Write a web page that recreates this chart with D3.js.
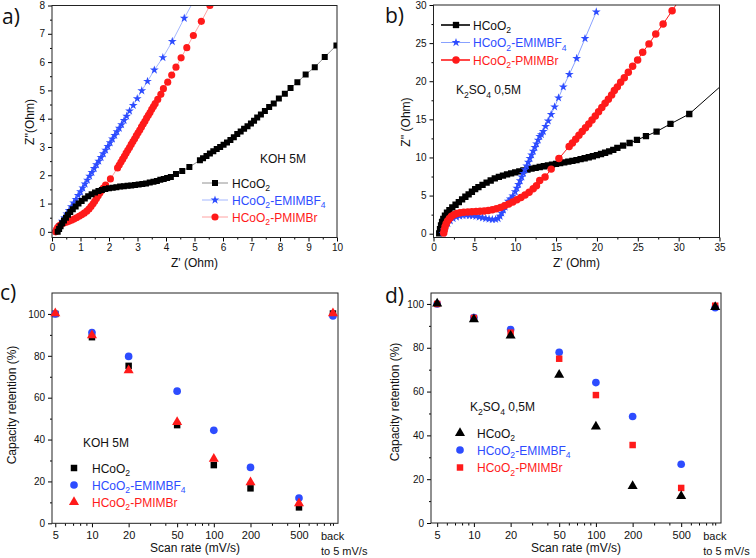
<!DOCTYPE html>
<html><head><meta charset="utf-8">
<script src="https://cdn.jsdelivr.net/npm/d3@7"></script>
<style>body{margin:0;background:#fff} text{font-family:"Liberation Sans",Arial,sans-serif}</style>
</head><body><svg id="chart" width="756" height="558"></svg>
<script>
// ---------- Panel a: KOH 5M Nyquist ----------
const aBlack = [[0.2,0.0],[0.25,0.1],[0.3,0.2],[0.36,0.3],[0.42,0.4],[0.49,0.5],[0.56,0.6],[0.64,0.7],[0.73,0.8],[0.83,0.9],[0.93,1.0],[1.04,1.09],[1.15,1.18],[1.27,1.26],[1.39,1.33],[1.51,1.39],[1.63,1.44],[1.75,1.48],[1.87,1.51],[2.0,1.54],[2.13,1.56],[2.26,1.58],[2.39,1.6],[2.52,1.61],[2.65,1.63],[2.78,1.64],[2.91,1.66],[3.04,1.67],[3.17,1.69],[3.3,1.71],[3.43,1.74],[3.56,1.77],[3.68,1.8],[3.8,1.84],[3.92,1.87],[4.04,1.9],[4.17,1.94],[4.35,2.04],[4.57,2.15],[4.82,2.29],[5.19,2.53],[5.3,2.6],[5.42,2.68],[5.54,2.77],[5.66,2.85],[5.78,2.93],[5.9,3.0],[6.02,3.08],[6.14,3.16],[6.26,3.25],[6.38,3.34],[6.5,3.46],[6.62,3.55],[6.74,3.64],[6.86,3.73],[6.98,3.83],[7.09,3.93],[7.2,4.04],[7.33,4.15],[7.47,4.27],[7.62,4.41],[7.78,4.54],[7.96,4.71],[8.17,4.88],[8.37,5.08],[8.61,5.29],[8.9,5.56],[9.22,5.82],[9.57,6.18],[9.98,6.59],[10.4,6.95]];
const aBlue = [[0.12,0.02],[0.2,0.12],[0.28,0.25],[0.36,0.38],[0.44,0.5],[0.52,0.63],[0.6,0.76],[0.68,0.89],[0.76,1.02],[0.84,1.15],[0.92,1.29],[1.0,1.42],[1.08,1.55],[1.16,1.69],[1.24,1.83],[1.32,1.97],[1.4,2.1],[1.48,2.24],[1.56,2.37],[1.64,2.5],[1.72,2.63],[1.8,2.76],[1.88,2.89],[1.96,3.02],[2.04,3.15],[2.12,3.28],[2.2,3.41],[2.28,3.54],[2.36,3.66],[2.44,3.79],[2.53,3.94],[2.62,4.09],[2.72,4.27],[2.85,4.47],[2.99,4.71],[3.15,4.99],[3.35,5.32],[3.59,5.72],[3.89,6.16],[4.22,6.73],[4.64,7.55],[5.1,8.4]];
const aRed = [[0.13,0.0],[0.16,0.08],[0.2,0.16],[0.26,0.22],[0.33,0.27],[0.41,0.31],[0.5,0.34],[0.59,0.37],[0.68,0.41],[0.77,0.45],[0.86,0.5],[0.95,0.55],[1.04,0.6],[1.13,0.66],[1.22,0.73],[1.3,0.81],[1.37,0.9],[1.44,0.99],[1.5,1.08],[1.56,1.18],[1.62,1.28],[1.68,1.37],[1.74,1.46],[1.8,1.55],[1.88,1.65],[2.05,1.87],[2.3,2.26],[2.36,2.36],[2.42,2.47],[2.48,2.57],[2.54,2.67],[2.6,2.78],[2.66,2.88],[2.72,2.98],[2.78,3.09],[2.84,3.19],[2.9,3.29],[2.96,3.4],[3.02,3.5],[3.08,3.6],[3.14,3.71],[3.2,3.81],[3.26,3.91],[3.32,4.02],[3.38,4.12],[3.44,4.22],[3.5,4.33],[3.56,4.43],[3.62,4.53],[3.71,4.68],[3.82,4.86],[3.91,5.06],[4.06,5.29],[4.2,5.54],[4.35,5.82],[4.53,6.15],[4.73,6.51],[4.96,6.94],[5.24,7.44],[5.54,8.0],[5.85,8.55]];

// ---------- Panel b: K2SO4 0,5M Nyquist ----------
const bBlack = [[0.7,0.05],[0.8,0.6],[0.92,1.1],[1.05,1.55],[1.2,1.95],[1.4,2.35],[1.65,2.75],[1.95,3.1],[2.3,3.45],[2.7,3.8],[3.1,4.15],[3.5,4.5],[3.9,4.85],[4.3,5.15],[4.7,5.5],[5.1,5.85],[5.5,6.1],[6.0,6.4],[6.5,6.7],[7.0,6.98],[7.5,7.25],[8.0,7.45],[8.5,7.62],[9.0,7.78],[9.5,7.92],[10.0,8.05],[10.5,8.18],[11.0,8.3],[11.5,8.42],[12.0,8.53],[12.5,8.64],[13.0,8.75],[13.5,8.85],[14.0,8.95],[14.5,9.05],[15.0,9.15],[15.5,9.25],[16.0,9.35],[16.5,9.45],[17.0,9.55],[17.5,9.66],[18.0,9.78],[18.5,9.9],[19.0,10.03],[19.5,10.16],[20.0,10.3],[20.5,10.45],[21.0,10.62],[21.5,10.8],[22.0,11.0],[22.5,11.25],[23.2,11.55],[24.0,11.9],[24.9,12.3],[26.0,12.8],[27.3,13.4],[29.0,14.4],[31.3,15.7],[37.2,21.3]];
const bBlue = [[1.15,0.05],[1.3,0.5],[1.5,0.95],[1.75,1.35],[2.05,1.7],[2.4,1.98],[2.8,2.2],[3.2,2.33],[3.6,2.4],[4.0,2.42],[4.4,2.4],[4.8,2.35],[5.2,2.28],[5.6,2.2],[6.0,2.1],[6.4,2.0],[6.8,1.92],[7.2,1.86],[7.6,1.88],[7.9,2.0],[8.15,2.3],[8.35,2.7],[8.55,3.1],[8.75,3.5],[8.95,3.9],[9.15,4.25],[9.4,4.55],[9.7,4.95],[10.0,5.5],[10.2,5.98],[10.4,6.47],[10.6,6.95],[10.8,7.44],[11.0,7.92],[11.2,8.4],[11.4,8.89],[11.6,9.37],[11.8,9.86],[12.0,10.34],[12.2,10.82],[12.4,11.31],[12.6,11.79],[12.8,12.28],[13.0,12.76],[13.2,13.0],[13.43,13.4],[13.72,14.08],[14.04,14.8],[14.4,15.65],[14.82,16.64],[15.3,17.82],[15.88,19.26],[16.62,20.9],[17.52,23.0],[18.54,25.6],[19.92,29.1]];
const bRed = [[1.25,0.1],[1.32,0.5],[1.42,0.9],[1.55,1.3],[1.72,1.68],[1.95,2.0],[2.2,2.28],[2.5,2.5],[2.85,2.65],[3.25,2.75],[3.7,2.82],[4.2,2.86],[4.7,2.89],[5.2,2.92],[5.7,2.95],[6.2,2.99],[6.7,3.05],[7.2,3.14],[7.7,3.28],[8.2,3.45],[8.7,3.66],[9.2,3.9],[9.7,4.17],[10.2,4.45],[10.7,4.75],[11.2,5.08],[11.7,5.45],[12.2,5.88],[12.6,6.3],[13.0,6.98],[13.65,7.45],[14.4,8.47],[15.35,9.85],[16.6,11.45],[17.0,11.9],[17.4,12.4],[17.8,12.9],[18.2,13.4],[18.6,13.9],[19.0,14.4],[19.4,14.9],[19.8,15.45],[20.2,16.0],[20.6,16.55],[21.0,17.1],[21.4,17.65],[21.8,18.2],[22.13,18.77],[22.5,19.26],[22.9,19.86],[23.35,20.47],[23.84,21.17],[24.37,21.96],[24.98,22.8],[25.6,23.8],[26.37,24.9],[27.2,26.2],[28.1,27.5],[29.2,29.25],[30.3,31.0]];

// ---------- Panels c, d: capacity retention ----------
const rateLabels = ["5","10","20","50","100","200","500"];
const rates = [5,10,20,50,100,200,500,950];   // last = "back to 5 mV/s"
const cBlack = [100,88.9,75.2,46.9,27.8,16.7,7.6,100.2];
const cBlue  = [100,91.1,79.7,63.1,44.4,26.7,12.1,99.0];
const cRed   = [100.3,89.8,73.1,48.3,30.8,19.6,9.5,100.3];
const dBlack = [100.2,93.0,85.5,67.6,44.0,16.9,12.3,98.6];
const dBlue  = [100,93.8,88.3,77.9,64.1,48.6,26.8,98.3];
const dRed   = [100,93.6,86.9,75.0,58.4,35.6,16.0,99.2];

const K = "#000000", B = "#2d4cff", R = "#ff1a1a";
const svg = d3.select("#chart");
const FONT = '"Liberation Sans",Arial,sans-serif';

function rich(g, x, y, parts, size, color, anchor) {
  const t = g.append("text").attr("x", x).attr("y", y).attr("font-size", size)
    .attr("fill", color).attr("text-anchor", anchor || "start");
  let shift = 0;
  parts.forEach(p => {
    const isSub = Array.isArray(p);
    const target = isSub ? size * 0.3 : 0;
    const ts = t.append("tspan").text(isSub ? p[0] : p)
      .attr("dy", target - shift);
    if (isSub) ts.attr("font-size", size * 0.72);
    shift = target;
  });
  return t;
}
const nameK = ["HCoO", ["2"]];
const nameB = ["HCoO", ["2"], "-EMIMBF", ["4"]];
const nameR = ["HCoO", ["2"], "-PMIMBr"];

function styleAxis(sel) {
  sel.select(".domain").remove();
  sel.selectAll("line").attr("stroke", "#000").attr("stroke-width", 1);
  sel.selectAll("text").attr("fill", "#111").style("font-family", FONT);
}

function frame(g, L, T, R_, B_) {
  g.append("rect").attr("x", L).attr("y", T).attr("width", R_ - L).attr("height", B_ - T)
    .attr("fill", "none").attr("stroke", "#222").attr("stroke-width", 1);
}

let clipId = 0;
function nyquist(cfg) {
  const g = svg.append("g");
  const x = d3.scaleLinear().domain(cfg.xd).range([cfg.L, cfg.R]);
  const y = d3.scaleLinear().domain(cfg.yd).range([cfg.B, cfg.T]);
  const id = "clip" + (clipId++);
  g.append("clipPath").attr("id", id).append("rect")
    .attr("x", cfg.L).attr("y", cfg.T).attr("width", cfg.R - cfg.L).attr("height", cfg.B - cfg.T);
  const eps = 1e-9;
  const xMaj = d3.range(cfg.xd[0], cfg.xd[1] + eps, cfg.xt);
  const xMin = d3.range(cfg.xd[0] + cfg.xt / 2, cfg.xd[1], cfg.xt);
  const yMaj = d3.range(0, cfg.yd[1] + eps, cfg.yt);
  const yMin = d3.range(cfg.yt / 2, cfg.yd[1], cfg.yt);
  g.append("g").attr("transform", `translate(0,${cfg.B})`)
    .call(d3.axisBottom(x).tickValues(xMaj).tickSize(4).tickPadding(2).tickFormat(d3.format("d")))
    .call(styleAxis).selectAll("text").attr("font-size", 10);
  g.append("g").attr("transform", `translate(0,${cfg.B})`)
    .call(d3.axisBottom(x).tickValues(xMin).tickSize(2).tickFormat("")).call(styleAxis);
  g.append("g").attr("transform", `translate(${cfg.L},0)`)
    .call(d3.axisLeft(y).tickValues(yMaj).tickSize(4).tickPadding(3).tickFormat(d3.format("d")))
    .call(styleAxis).selectAll("text").attr("font-size", 10);
  g.append("g").attr("transform", `translate(${cfg.L},0)`)
    .call(d3.axisLeft(y).tickValues(yMin).tickSize(2).tickFormat("")).call(styleAxis);

  const plot = g.append("g").attr("clip-path", `url(#${id})`);
  const line = d3.line().x(d => x(d[0])).y(d => y(d[1]));
  cfg.series.forEach(s => {
    plot.append("path").attr("d", line(s.data)).attr("fill", "none")
      .attr("stroke", s.lc).attr("stroke-width", s.lw || 0.8);
  });
  cfg.series.forEach(s => {
    plot.append("g").selectAll("path").data(s.data).join("path")
      .attr("transform", d => `translate(${x(d[0])},${y(d[1])})`)
      .attr("d", d3.symbol().type(s.sym).size(s.size))
      .attr("fill", s.col);
  });
  frame(g, cfg.L, cfg.T, cfg.R, cfg.B);
  g.append("text").attr("x", (cfg.L + cfg.R) / 2).attr("y", cfg.xTitleY).attr("text-anchor", "middle")
    .attr("font-size", 12).attr("fill", "#111").text("Z' (Ohm)");
  g.append("text").attr("transform", `translate(${cfg.yTitleX},${cfg.yTitleC}) rotate(-90)`)
    .attr("text-anchor", "middle").attr("font-size", 12).attr("fill", "#111").text(cfg.yTitle);
  return {g, x, y};
}

const STAR = 24;
// Panel a
const pa = nyquist({L: 52, R: 337, T: 5.5, B: 237.5, xd: [0, 10], yd: [-0.2, 8], xt: 1, yt: 1,
  xTitleY: 267, yTitleX: 34, yTitleC: 122, yTitle: "Z''(Ohm)",
  series: [
    {data: aBlue, sym: d3.symbolStar, size: STAR, col: B, lc: "#8ea4ff"},
    {data: aRed, sym: d3.symbolCircle, size: 40, col: R, lc: "#ff8a8a"},
    {data: aBlack, sym: d3.symbolSquare, size: 36, col: K, lc: "#777"}
  ]});
// Panel b
const pb = nyquist({L: 433.5, R: 719.5, T: 5, B: 237.5, xd: [0, 35], yd: [-0.5, 30], xt: 5, yt: 5,
  xTitleY: 267, yTitleX: 410, yTitleC: 122, yTitle: "Z'' (Ohm)",
  series: [
    {data: bBlack, sym: d3.symbolSquare, size: 40, col: K, lc: "#000", lw: 1},
    {data: bBlue, sym: d3.symbolStar, size: STAR, col: B, lc: "#7b96ff", lw: 0.9},
    {data: bRed, sym: d3.symbolCircle, size: 44, col: R, lc: R, lw: 1}
  ]});

// legends a
pa.g.append("text").attr("x", 260).attr("y", 163).attr("font-size", 12).attr("fill", "#111").text("KOH 5M");
[[183, K, "#777", d3.symbolSquare, nameK, 36], [200, B, "#8ea4ff", d3.symbolStar, nameB, STAR], [217, R, "#ff8a8a", d3.symbolCircle, nameR, 40]]
  .forEach(([yy, c, lc, sym, nm, sz]) => {
    pa.g.append("line").attr("x1", 202).attr("x2", 228).attr("y1", yy).attr("y2", yy).attr("stroke", lc).attr("stroke-width", 0.8);
    pa.g.append("path").attr("transform", `translate(215,${yy})`).attr("d", d3.symbol().type(sym).size(sz)).attr("fill", c);
    rich(pa.g, 232, yy + 4.5, nm, 12, c === K ? "#111" : c);
  });
// legends b
[[25, K, "#000", d3.symbolSquare, nameK, 40, 1.6], [42.5, B, "#7b96ff", d3.symbolStar, nameB, STAR, 0.9], [60, R, R, d3.symbolCircle, nameR, 44, 1.6]]
  .forEach(([yy, c, lc, sym, nm, sz, lw]) => {
    pb.g.append("line").attr("x1", 441).attr("x2", 470).attr("y1", yy).attr("y2", yy).attr("stroke", lc).attr("stroke-width", lw);
    pb.g.append("path").attr("transform", `translate(456,${yy})`).attr("d", d3.symbol().type(sym).size(sz)).attr("fill", c);
    rich(pb.g, 473, yy + 4.5, nm, 12, c === K ? "#111" : c);
  });
rich(pb.g, 456, 94, ["K", ["2"], "SO", ["4"], " 0,5M"], 12, "#111");

// ---------- retention panels ----------
function retention(cfg) {
  const g = svg.append("g");
  const x = d3.scaleLog().domain(cfg.xd).range([cfg.L, cfg.R]);
  const y = d3.scaleLinear().domain(cfg.yd).range([cfg.B, cfg.T]);
  const minors = [6, 7, 8, 9, 30, 40, 60, 70, 80, 90, 300, 400, 600, 700, 800, 900];
  g.append("g").attr("transform", `translate(0,${cfg.B})`)
    .call(d3.axisBottom(x).tickValues(rates.slice(0, 7)).tickSize(4).tickPadding(4).tickFormat((d, i) => rateLabels[i]))
    .call(styleAxis).selectAll("text").attr("font-size", 11);
  g.append("g").attr("transform", `translate(0,${cfg.B})`)
    .call(d3.axisBottom(x).tickValues(minors.concat([rates[7]])).tickSize(2.5).tickFormat("")).call(styleAxis);
  g.append("g").attr("transform", `translate(${cfg.L},0)`)
    .call(d3.axisLeft(y).tickValues(d3.range(0, 101, 20)).tickSize(4).tickPadding(3))
    .call(styleAxis).selectAll("text").attr("font-size", 10);
  g.append("g").attr("transform", `translate(${cfg.L},0)`)
    .call(d3.axisLeft(y).tickValues(d3.range(10, 100, 20)).tickSize(2).tickFormat("")).call(styleAxis);
  frame(g, cfg.L, cfg.T, cfg.R, cfg.B);
  cfg.series.forEach(s => {
    g.append("g").selectAll("path").data(s.data).join("path")
      .attr("transform", (d, i) => `translate(${x(rates[i])},${y(d)})`)
      .attr("d", d3.symbol().type(s.sym).size(s.size)).attr("fill", s.col);
  });
  const bx = x(rates[7]) - 12;
  g.append("text").attr("x", bx).attr("y", cfg.B + 16.5).attr("font-size", 11).attr("fill", "#111").text("back");
  g.append("text").attr("x", bx).attr("y", cfg.B + 31.5).attr("font-size", 11).attr("fill", "#111").text("to 5 mV/s");
  g.append("text").attr("x", (cfg.L + cfg.R) / 2).attr("y", cfg.B + 28.5).attr("text-anchor", "middle")
    .attr("font-size", 12).attr("fill", "#111").text("Scan rate (mV/s)");
  g.append("text").attr("transform", `translate(${cfg.yTitleX},${cfg.yTitleC}) rotate(-90)`)
    .attr("text-anchor", "middle").attr("font-size", 12).attr("fill", "#111").text("Capacity retention (%)");
  rich(g, cfg.lgX, cfg.lgTitleY, cfg.title, 12, "#111");
  cfg.legend.forEach(([yy, s, nm]) => {
    g.append("path").attr("transform", `translate(${cfg.lgMX},${yy})`).attr("d", d3.symbol().type(s.sym).size(s.size)).attr("fill", s.col);
    rich(g, cfg.lgTX, yy + 4.5, nm, 12, s.col === K ? "#111" : s.col);
  });
  return g;
}
const cK = {data: cBlack, sym: d3.symbolSquare, size: 42, col: K};
const cB = {data: cBlue, sym: d3.symbolCircle, size: 46, col: B};
const cR = {data: cRed, sym: d3.symbolTriangle, size: 44, col: R};
retention({L: 52, R: 338, T: 293, B: 523.3, xd: [4.7, 1045], yd: [0, 110],
  yTitleX: 16, yTitleC: 405, series: [cK, cB, cR],
  lgX: 83, lgTitleY: 447, lgMX: 74, lgTX: 92, title: ["KOH 5M"],
  legend: [[468, cK, nameK], [485, cB, nameB], [502, cR, nameR]]});
const dK = {data: dBlack, sym: d3.symbolTriangle, size: 44, col: K};
const dB = {data: dBlue, sym: d3.symbolCircle, size: 46, col: B};
const dR = {data: dRed, sym: d3.symbolSquare, size: 42, col: R};
retention({L: 431, R: 721, T: 293, B: 523, xd: [4.45, 1060], yd: [0, 105],
  yTitleX: 399, yTitleC: 402, series: [dB, dR, dK],
  lgX: 470, lgTitleY: 411, lgMX: 460, lgTX: 477, title: ["K", ["2"], "SO", ["4"], " 0,5M"],
  legend: [[433, dK, nameK], [450, dB, nameB], [467.5, dR, nameR]]});

// panel letters
[["a)", 2, 24], ["b)", 385, 23], ["c)", 0, 300], ["d)", 385, 303]].forEach(([t, x, y]) => {
  svg.append("text").attr("x", x).attr("y", y).attr("font-size", 21).attr("fill", "#111")
    .style("font-family", '"Open Sans",sans-serif').text(t);
});
</script></body></html>
